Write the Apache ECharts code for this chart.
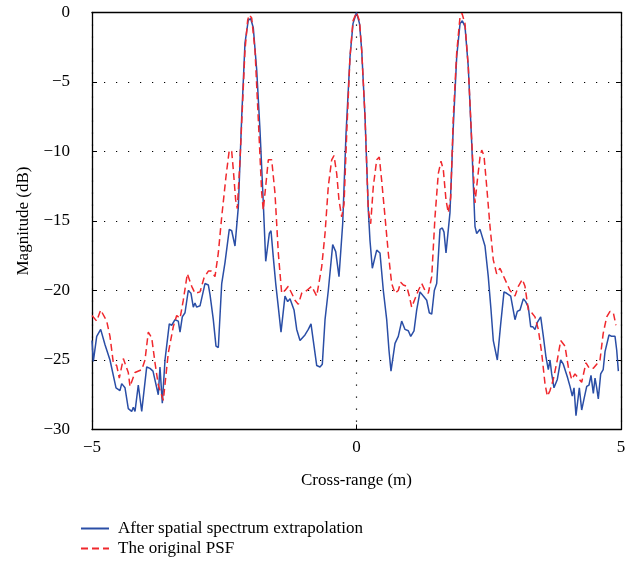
<!DOCTYPE html>
<html><head><meta charset="utf-8">
<script src="https://cdn.jsdelivr.net/npm/echarts@6/dist/echarts.min.js"></script>
<style>html,body{margin:0;padding:0;background:#fff}#c{width:638px;height:569px}</style>
</head><body><div id="c"></div>
<script>
const seriesNames = ['After spatial spectrum extrapolation', 'The original PSF'];
const xTicks = [-5, 0, 5];
const yTicks = [-30, -25, -20, -15, -10, -5, 0];

const blueX = [-5.000,-4.975,-4.911,-4.836,-4.754,-4.660,-4.546,-4.471,-4.439,-4.376,-4.314,-4.250,-4.219,-4.187,-4.125,-4.060,-3.966,-3.904,-3.847,-3.747,-3.715,-3.671,-3.620,-3.539,-3.493,-3.431,-3.369,-3.336,-3.293,-3.242,-3.180,-3.129,-3.085,-3.053,-3.021,-2.958,-2.926,-2.864,-2.801,-2.769,-2.707,-2.656,-2.612,-2.548,-2.486,-2.405,-2.359,-2.297,-2.234,-2.170,-2.108,-2.045,-2.000,-1.951,-1.887,-1.824,-1.762,-1.716,-1.686,-1.648,-1.616,-1.573,-1.527,-1.478,-1.427,-1.352,-1.301,-1.257,-1.181,-1.130,-1.068,-0.974,-0.911,-0.860,-0.817,-0.752,-0.690,-0.646,-0.595,-0.533,-0.450,-0.393,-0.331,-0.261,-0.198,-0.123,-0.066,0.000,0.057,0.098,0.161,0.223,0.255,0.299,0.331,0.382,0.444,0.507,0.571,0.614,0.652,0.684,0.728,0.790,0.854,0.917,0.979,1.025,1.087,1.138,1.200,1.263,1.327,1.376,1.422,1.471,1.516,1.578,1.622,1.654,1.692,1.724,1.767,1.830,1.894,1.957,2.000,2.051,2.113,2.178,2.240,2.272,2.335,2.367,2.429,2.491,2.543,2.586,2.662,2.726,2.788,2.839,2.915,2.996,3.040,3.091,3.153,3.198,3.248,3.293,3.331,3.374,3.418,3.482,3.532,3.582,3.626,3.658,3.690,3.733,3.796,3.860,3.909,3.941,3.985,4.036,4.079,4.112,4.149,4.174,4.212,4.257,4.301,4.352,4.395,4.433,4.477,4.509,4.541,4.571,4.616,4.663,4.698,4.730,4.773,4.824,4.855,4.887,4.919,4.950];
const blueY = [-23.6,-25.1,-23.3,-22.8,-23.9,-25.0,-27.0,-27.2,-26.7,-27.0,-28.5,-28.7,-28.4,-28.7,-26.8,-28.7,-25.5,-25.6,-25.8,-27.5,-25.5,-28.1,-25.0,-22.4,-22.5,-22.1,-22.2,-23.0,-21.9,-21.6,-20.0,-20.2,-21.2,-20.9,-21.2,-21.1,-21.1,-19.5,-19.6,-20.3,-22.1,-24.0,-24.1,-19.5,-18.0,-15.6,-15.7,-16.8,-14.0,-7.5,-2.2,-0.54,-0.45,-1.1,-4.1,-8.5,-13.7,-17.9,-18.0,-15.9,-15.7,-17.6,-19.5,-21.2,-23.0,-20.4,-20.8,-20.6,-21.4,-22.8,-23.6,-23.2,-22.8,-22.4,-23.6,-25.4,-25.5,-25.3,-22.1,-20.0,-16.7,-17.2,-19.0,-15.2,-8.7,-3.2,-0.8,0.0,-0.8,-2.7,-7.5,-14.2,-16.4,-18.4,-18.3,-17.1,-17.3,-20.0,-22.1,-24.3,-25.8,-25.7,-23.8,-23.3,-22.2,-22.8,-22.9,-23.3,-22.9,-21.4,-20.1,-20.4,-20.7,-21.6,-21.7,-20.0,-19.5,-15.6,-15.5,-15.8,-17.3,-17.3,-14.4,-8.2,-3.2,-0.8,-0.6,-1.0,-3.9,-9.4,-15.4,-15.9,-15.6,-15.6,-16.8,-19.0,-21.4,-23.6,-25.0,-22.4,-20.1,-20.2,-20.4,-22.1,-21.5,-21.4,-20.6,-20.8,-21.2,-22.6,-22.6,-22.8,-22.3,-21.9,-23.3,-24.8,-25.7,-25.0,-26.0,-27.0,-26.4,-25.0,-25.3,-25.4,-26.2,-26.9,-27.6,-27.0,-29.0,-29.0,-27.0,-28.6,-27.8,-26.9,-26.8,-26.1,-27.4,-26.3,-27.0,-27.8,-26.0,-25.7,-24.4,-24.3,-23.2,-23.3,-23.4,-23.3,-24.3,-25.8];

const redX = [-5.000,-4.911,-4.836,-4.722,-4.660,-4.597,-4.533,-4.484,-4.408,-4.314,-4.282,-4.187,-4.060,-3.998,-3.936,-3.871,-3.809,-3.747,-3.652,-3.558,-3.463,-3.399,-3.336,-3.274,-3.198,-3.115,-3.053,-2.958,-2.883,-2.801,-2.750,-2.675,-2.612,-2.548,-2.467,-2.405,-2.359,-2.329,-2.284,-2.253,-2.202,-2.159,-2.108,-2.057,-2.026,-1.981,-1.919,-1.856,-1.792,-1.762,-1.711,-1.667,-1.603,-1.541,-1.478,-1.414,-1.352,-1.289,-1.225,-1.163,-1.100,-1.036,-0.941,-0.847,-0.752,-0.658,-0.595,-0.533,-0.469,-0.425,-0.374,-0.331,-0.280,-0.236,-0.185,-0.123,-0.066,0.000,0.057,0.098,0.161,0.223,0.268,0.318,0.382,0.431,0.476,0.539,0.601,0.665,0.728,0.790,0.835,0.885,0.949,0.998,1.043,1.106,1.168,1.233,1.295,1.357,1.422,1.484,1.546,1.597,1.641,1.692,1.735,1.781,1.830,1.894,1.957,1.994,2.051,2.113,2.178,2.240,2.284,2.335,2.367,2.410,2.461,2.524,2.586,2.650,2.713,2.807,2.902,2.996,3.059,3.134,3.185,3.248,3.312,3.374,3.437,3.501,3.563,3.607,3.658,3.720,3.796,3.860,3.941,4.004,4.068,4.130,4.192,4.257,4.338,4.401,4.477,4.541,4.603,4.663,4.730,4.792,4.855,4.905];
const redY = [-21.8,-22.2,-21.4,-22.2,-23.3,-25.2,-25.4,-26.3,-24.9,-25.9,-26.9,-25.9,-25.7,-25.0,-23.0,-23.4,-25.2,-26.8,-27.9,-24.5,-22.6,-21.8,-22.0,-20.7,-18.8,-19.7,-20.2,-20.1,-19.1,-18.6,-18.6,-19.0,-17.3,-14.7,-11.8,-9.9,-10.0,-11.3,-13.5,-14.1,-10.6,-7.0,-2.7,-0.54,-0.18,-0.4,-2.7,-7.7,-13.0,-14.2,-12.3,-10.6,-10.6,-13.0,-17.3,-20.2,-20.0,-19.7,-20.2,-20.7,-21.0,-20.2,-20.0,-19.7,-20.4,-18.3,-15.9,-12.5,-10.6,-10.3,-11.6,-13.5,-14.7,-13.8,-8.7,-3.2,-0.6,0.0,-0.6,-2.7,-7.5,-14.2,-15.2,-12.5,-10.6,-10.4,-12.1,-14.7,-17.3,-19.5,-20.2,-20.0,-19.4,-19.6,-19.7,-20.4,-21.2,-20.6,-20.0,-19.5,-20.0,-20.2,-19.0,-14.7,-11.6,-10.7,-11.3,-13.5,-14.4,-13.3,-7.5,-2.9,-0.3,-0.06,-0.8,-3.9,-9.2,-13.7,-12.1,-10.4,-9.9,-10.3,-12.5,-15.4,-17.8,-18.8,-18.4,-19.2,-20.0,-20.4,-19.7,-19.2,-19.7,-21.4,-21.6,-21.9,-22.8,-24.5,-26.7,-27.6,-27.2,-26.4,-25.0,-23.6,-24.0,-25.5,-26.4,-26.0,-26.3,-26.6,-25.2,-25.6,-25.6,-25.3,-25.0,-23.1,-21.9,-21.5,-21.6,-22.5];

const blueData = blueX.map((x, i) => [x, blueY[i]]);
const redData = redX.map((x, i) => [x, redY[i]]);

const FONT = 'Liberation Serif';
const fmt = v => v < 0 ? '\u2212' + Math.abs(v) : String(v);

const chart = echarts.init(document.getElementById('c'), null, {renderer: 'canvas'});
chart.setOption({
  animation: false,
  backgroundColor: '#fff',
  textStyle: {fontFamily: FONT},
  grid: {left: 92, right: 17, top: 12.5, bottom: 139.5, show: false},
  legend: {
    left: 75, top: 515, orient: 'vertical', itemWidth: 28, itemHeight: 14, itemGap: 3,
    data: seriesNames,
    itemStyle: {opacity: 0},
    textStyle: {fontFamily: FONT, fontSize: 17, color: '#000', padding: [0, 0, 0, 4]}
  },
  xAxis: [{
    type: 'value', min: xTicks[0], max: xTicks[xTicks.length - 1], interval: 5,
    name: 'Cross-range (m)', nameLocation: 'middle', nameGap: 43,
    nameTextStyle: {fontFamily: FONT, fontSize: 17, color: '#000'},
    axisLine: {show: true, onZero: false, lineStyle: {color: '#000', width: 1.3}},
    axisTick: {show: true, inside: true, length: 5, lineStyle: {color: '#000'}},
    axisLabel: {formatter: fmt, fontFamily: FONT, fontSize: 17, color: '#000', margin: 10},
    splitLine: {show: true, lineStyle: {color: '#000', type: [1.2, 10.8], width: 1.2}}
  }, {
    type: 'value', position: 'top', min: -5, max: 5, interval: 5,
    axisLine: {show: true, onZero: false, lineStyle: {color: '#000', width: 1.3}},
    axisTick: {show: false}, axisLabel: {show: false}, splitLine: {show: false}
  }],
  yAxis: [{
    type: 'value', min: yTicks[0], max: yTicks[yTicks.length - 1], interval: 5,
    name: 'Magnitude (dB)', nameLocation: 'middle', nameGap: 56,
    nameTextStyle: {fontFamily: FONT, fontSize: 17, color: '#000'},
    axisLine: {show: true, onZero: false, lineStyle: {color: '#000', width: 1.3}},
    axisTick: {show: true, inside: true, length: 5, lineStyle: {color: '#000'}},
    axisLabel: {formatter: fmt, fontFamily: FONT, fontSize: 17, color: '#000', margin: 22},
    splitLine: {show: true, lineStyle: {color: '#000', type: [1.2, 10.8], width: 1.2}}
  }, {
    type: 'value', position: 'right', min: -30, max: 0, interval: 5,
    axisLine: {show: true, onZero: false, lineStyle: {color: '#000', width: 1.3}},
    axisTick: {show: true, inside: true, length: 5, lineStyle: {color: '#000'}},
    axisLabel: {show: false}, splitLine: {show: false}
  }],
  series: [{
    name: seriesNames[0], type: 'line', data: blueData, symbol: 'none',
    lineStyle: {color: '#2a4ea6', width: 1.5}, itemStyle: {color: '#2a4ea6'}
  }, {
    name: seriesNames[1], type: 'line', data: redData, symbol: 'none',
    lineStyle: {color: '#f0282d', width: 1.5, type: [7, 4]}, itemStyle: {color: '#f0282d'}
  }]
});
</script></body></html>
